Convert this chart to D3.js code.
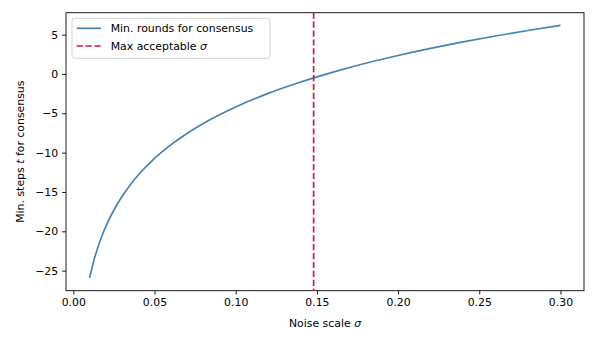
<!DOCTYPE html>
<html>
<head>
<meta charset="utf-8">
<script src="https://cdn.jsdelivr.net/npm/d3@7"></script>
<style>
  body { margin: 0; background: #fff; }
  text { font-family: "DejaVu Sans", sans-serif; }
</style>
</head>
<body>
<script>
// noise scale sigma (x) and min. steps t (y)
var sigma = [0.01, 0.0125, 0.015, 0.0175, 0.02, 0.025, 0.03, 0.035, 0.04, 0.05,
             0.06, 0.07, 0.08, 0.09, 0.10, 0.12, 0.14, 0.16, 0.18, 0.20,
             0.22, 0.24, 0.26, 0.28, 0.30];
var steps = [-25.94, -23.83, -22.11, -20.66, -19.40, -17.29, -15.57, -14.11, -12.85, -10.74,
             -9.02, -7.56, -6.30, -5.19, -4.20, -2.47, -1.02, 0.24, 1.36, 2.35,
             3.25, 4.07, 4.83, 5.53, 6.18];
var maxSigma = 0.148;
var xTicks = [0.00, 0.05, 0.10, 0.15, 0.20, 0.25, 0.30];
var yTicks = [-25, -20, -15, -10, -5, 0, 5];

function init() {
    var w = 598, h = 342;
    var left = 66, right = 584, top = 12.7, bottom = 290.7;
    var fs = 10.9;

    var svg = d3.select("body").append("svg")
        .attr("width", w).attr("height", h);

    // matplotlib style 5% margins
    var xr = d3.extent(sigma), yr = d3.extent(steps);
    var xm = (xr[1] - xr[0]) * 0.05, ym = (yr[1] - yr[0]) * 0.05;
    var x = d3.scaleLinear().domain([xr[0] - xm, xr[1] + xm]).range([left, right]);
    var y = d3.scaleLinear().domain([yr[0] - ym, yr[1] + ym]).range([bottom, top]);

    var data = sigma.map(function (s, i) { return [s, steps[i]]; });

    // x axis
    var xAxis = svg.append("g")
        .attr("transform", "translate(0," + bottom + ")")
        .call(d3.axisBottom(x).tickValues(xTicks).tickFormat(d3.format(".2f"))
            .tickSize(3.9).tickPadding(3.9));
    // y axis
    var yAxis = svg.append("g")
        .attr("transform", "translate(" + left + ",0)")
        .call(d3.axisLeft(y).tickValues(yTicks).tickFormat(function (d) {
            return d < 0 ? "\u2212" + Math.abs(d) : d;
        }).tickSize(3.9).tickPadding(3.9));

    [xAxis, yAxis].forEach(function (a) {
        a.select(".domain").remove();
        a.selectAll(".tick line").attr("stroke", "#000").attr("stroke-width", 0.89);
        a.selectAll(".tick text").attr("fill", "#000")
            .style("font-size", fs + "px").style("font-family", "DejaVu Sans");
    });

    // frame
    svg.append("rect")
        .attr("x", left).attr("y", top)
        .attr("width", right - left).attr("height", bottom - top)
        .attr("fill", "none").attr("stroke", "#000").attr("stroke-width", 0.89);

    // curve
    var line = d3.line()
        .x(function (d) { return x(d[0]); })
        .y(function (d) { return y(d[1]); })
        .curve(d3.curveMonotoneX);
    svg.append("path")
        .datum(data)
        .attr("d", line)
        .attr("fill", "none")
        .attr("stroke", "steelblue")
        .attr("stroke-width", 1.67);

    // threshold line
    svg.append("line")
        .attr("x1", x(maxSigma)).attr("x2", x(maxSigma))
        .attr("y1", top).attr("y2", bottom)
        .attr("stroke", "crimson")
        .attr("stroke-width", 1.67)
        .attr("stroke-dasharray", "6.2,2.7");

    // axis labels
    var xl = svg.append("text")
        .attr("x", (left + right) / 2).attr("y", 326.5)
        .attr("text-anchor", "middle")
        .style("font-size", fs + "px");
    xl.append("tspan").text("Noise scale ");
    xl.append("tspan").style("font-style", "italic").text("\u03c3");

    var yl = svg.append("text")
        .attr("transform", "translate(24," + ((top + bottom) / 2) + ") rotate(-90)")
        .attr("text-anchor", "middle")
        .style("font-size", fs + "px");
    yl.append("tspan").text("Min. steps ");
    yl.append("tspan").style("font-style", "italic").text("t");
    yl.append("tspan").text(" for consensus");

    // legend
    var lg = svg.append("g");
    lg.append("rect")
        .attr("x", 72).attr("y", 18.3)
        .attr("width", 198).attr("height", 40)
        .attr("rx", 2.5)
        .attr("fill", "#fff").attr("fill-opacity", 0.8)
        .attr("stroke", "#ccc").attr("stroke-width", 0.89);
    var items = [
        {label: "Min. rounds for consensus", color: "steelblue", dash: null, y: 28.3},
        {label: "Max acceptable ", sym: "\u03c3", color: "crimson", dash: "6.2,2.7", y: 46}
    ];
    items.forEach(function (it) {
        lg.append("line")
            .attr("x1", 76.7).attr("x2", 101)
            .attr("y1", it.y).attr("y2", it.y)
            .attr("stroke", it.color).attr("stroke-width", 1.67)
            .attr("stroke-dasharray", it.dash);
        var t = lg.append("text")
            .attr("x", 110.7).attr("y", it.y + 4)
            .style("font-size", fs + "px");
        t.append("tspan").text(it.label);
        if (it.sym) t.append("tspan").style("font-style", "italic").text(it.sym);
    });
}
window.onload = init;
</script>
</body>
</html>
